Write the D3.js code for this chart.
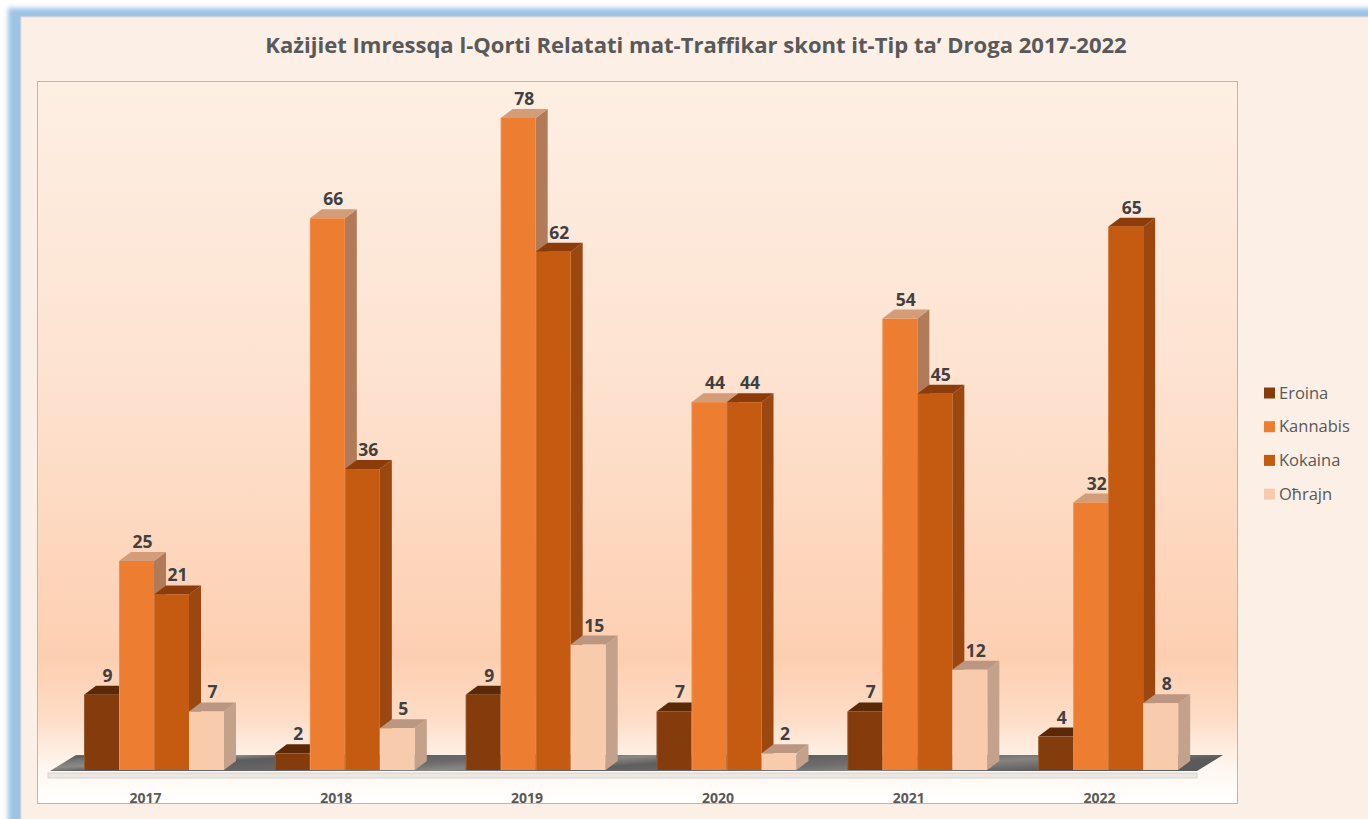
<!DOCTYPE html>
<html>
<head>
  <meta charset="utf-8">
  <script src="https://d3js.org/d3.v7.min.js"></script>
  <style>
    body { margin: 0; background: #ffffff; }
    svg { display: block; }
  </style>
</head>
<body>
<div id="chart"></div>
<script>
// data
const years = ["2017", "2018", "2019", "2020", "2021", "2022"];
const eroina = [9, 2, 9, 7, 7, 4];
const kannabis = [25, 66, 78, 44, 54, 32];
const kokaina = [21, 36, 62, 44, 45, 65];
const ohrajn = [7, 5, 15, 2, 12, 8];
const seriesNames = ["Eroina", "Kannabis", "Kokaina", "Oħrajn"];
const chartTitle = "Każijiet Imressqa l-Qorti Relatati mat-Traffikar skont it-Tip ta’ Droga 2017-2022";

// front / top / side shades for each series
const faceColors = [
  {front: "#843c0c", top: "#5c2907", side: "#6a3009"},
  {front: "#ed7d31", top: "#d49d79", side: "#b17b59"},
  {front: "#c55a11", top: "#8b3c0a", side: "#9c4710"},
  {front: "#f8cbad", top: "#bb9781", side: "#c3a18b"}
];

const series = seriesNames.map((name, i) => ({
  name: name,
  values: [eroina, kannabis, kokaina, ohrajn][i],
  colors: faceColors[i]
}));

const W = 1368, H = 819;
const dx = 12, dy = 9;          // 3d depth of bars
const floorDx = 26, floorDy = 16;

const svg = d3.select("#chart").append("svg")
  .attr("width", W).attr("height", H);

const defs = svg.append("defs");

defs.append("filter").attr("id", "glow")
  .attr("x", "-5%").attr("y", "-5%").attr("width", "110%").attr("height", "110%")
  .append("feGaussianBlur").attr("stdDeviation", 2.5);

const plotGrad = defs.append("linearGradient").attr("id", "plotGrad")
  .attr("x1", 0).attr("y1", 0).attr("x2", 0).attr("y2", 1);
[[0, "#fdefe3"], [0.4, "#fde3d1"], [0.8, "#fdcfb1"], [0.88, "#fddcc5"],
 [0.95, "#fff6ef"], [1, "#ffffff"]].forEach(s =>
  plotGrad.append("stop").attr("offset", s[0]).attr("stop-color", s[1]));

const floorGrad = defs.append("linearGradient").attr("id", "floorGrad")
  .attr("x1", 0).attr("y1", 0).attr("x2", 1).attr("y2", 0.2);
[[0, "#8a8a8a"], [0.04, "#5e5e5e"], [0.1, "#7a7a7a"], [0.16, "#8c8a86"],
 [0.22, "#5c5c5c"], [0.4, "#6a6a6a"], [0.5, "#8a8884"], [0.6, "#5e5e5e"],
 [0.75, "#6c6c6c"], [0.85, "#868480"], [1, "#5a5a5a"]].forEach(s =>
  floorGrad.append("stop").attr("offset", s[0]).attr("stop-color", s[1]));

// blue frame and chart background
svg.append("rect")
  .attr("x", 8).attr("y", 8).attr("width", W + 40).attr("height", H + 40)
  .attr("fill", "#9dc3e6").attr("filter", "url(#glow)");
svg.append("rect")
  .attr("x", 21).attr("y", 17).attr("width", W).attr("height", H)
  .attr("fill", "#fcefe6").attr("stroke", "#f2dccd").attr("stroke-width", 1);

// title
const title = svg.append("text")
  .attr("x", 696).attr("y", 53)
  .attr("text-anchor", "middle")
  .style("font-family", "'Open Sans', sans-serif")
  .style("font-weight", "bold")
  .style("font-size", "17px")
  .attr("fill", "#595959")
  .text(chartTitle);
const tl = title.node().getComputedTextLength();
title.style("font-size", (17 * 862 / tl).toFixed(2) + "px");

// plot area
svg.append("rect")
  .attr("x", 37.5).attr("y", 81.5).attr("width", 1200).attr("height", 722)
  .attr("fill", "url(#plotGrad)")
  .attr("stroke", "#c3b3aa").attr("stroke-width", 1);

// scales
const x0 = d3.scaleBand().domain(years).range([50, 1195]);
const x1 = d3.scaleBand().domain(seriesNames).range([0, 140]);
const groupShift = 34;
const y = d3.scaleLinear().domain([0, 78]).range([770, 118]);
const base = y(0);

// floor
svg.append("rect")
  .attr("x", 48).attr("y", base + 3).attr("width", 1149).attr("height", 5)
  .attr("fill", "#ebe7e3").attr("stroke", "#d8d4d0").attr("stroke-width", 1);
svg.append("polygon")
  .attr("points", [
    [x0.range()[0], base + 1], [x0.range()[1] + 2, base + 1],
    [x0.range()[1] + 2 + floorDx, base + 1 - floorDy], [x0.range()[0] + floorDx, base + 1 - floorDy]
  ].map(p => p.join(",")).join(" "))
  .attr("fill", "url(#floorGrad)");

// bars, drawn left to right so each front face covers the previous side face
const bars = [];
years.forEach((yr, i) => {
  series.forEach(s => {
    bars.push({year: yr, name: s.name, value: s.values[i], colors: s.colors});
  });
});

const barG = svg.append("g");
const bw = x1.bandwidth();

const g = barG.selectAll("g.bar")
  .data(bars)
  .join("g")
  .attr("class", "bar");

g.append("polygon") // side
  .attr("points", d => {
    const xr = x0(d.year) + groupShift + x1(d.name) + bw;
    const yt = y(d.value);
    return [[xr, yt], [xr + dx, yt - dy], [xr + dx, base - dy], [xr, base]]
      .map(p => p.join(",")).join(" ");
  })
  .attr("fill", d => d.colors.side);

g.append("polygon") // top
  .attr("points", d => {
    const xl = x0(d.year) + groupShift + x1(d.name);
    const yt = y(d.value);
    return [[xl, yt], [xl + bw, yt], [xl + bw + dx, yt - dy], [xl + dx, yt - dy]]
      .map(p => p.join(",")).join(" ");
  })
  .attr("fill", d => d.colors.top);

g.append("rect") // front
  .attr("x", d => x0(d.year) + groupShift + x1(d.name))
  .attr("y", d => y(d.value))
  .attr("width", bw)
  .attr("height", d => base - y(d.value))
  .attr("fill", d => d.colors.front);

g.append("line") // soft bevel on the front face
  .attr("x1", d => x0(d.year) + groupShift + x1(d.name) + 0.5)
  .attr("x2", d => x0(d.year) + groupShift + x1(d.name) + 0.5)
  .attr("y1", d => y(d.value))
  .attr("y2", base)
  .attr("stroke", "#ffffff").attr("stroke-opacity", 0.15);

// value labels
svg.append("g").selectAll("text")
  .data(bars)
  .join("text")
  .attr("x", d => x0(d.year) + groupShift + x1(d.name) + bw / 2 + dx / 2)
  .attr("y", d => y(d.value) - dy - 4)
  .attr("text-anchor", "middle")
  .style("font-family", "'Open Sans', sans-serif")
  .style("font-weight", "bold")
  .style("font-size", "17.5px")
  .attr("fill", "#404040")
  .text(d => d.value);

// category labels
svg.append("g").selectAll("text")
  .data(years)
  .join("text")
  .attr("x", d => x0(d) + x0.bandwidth() / 2)
  .attr("y", 803)
  .attr("text-anchor", "middle")
  .style("font-family", "'Open Sans', sans-serif")
  .style("font-weight", "bold")
  .style("font-size", "14px")
  .attr("fill", "#595959")
  .text(d => d);

// legend
const legend = svg.append("g")
  .selectAll("g")
  .data(series)
  .join("g")
  .attr("transform", (d, i) => `translate(1264, ${393 + i * 33.7})`);

legend.append("rect")
  .attr("x", 0).attr("y", -5.5)
  .attr("width", 11).attr("height", 11)
  .attr("fill", d => d.colors.front);

legend.append("text")
  .attr("x", 15).attr("y", 0)
  .attr("dy", "0.35em")
  .style("font-family", "'Open Sans', sans-serif")
  .style("font-size", "16.5px")
  .attr("fill", "#595959")
  .text(d => d.name);
</script>
</body>
</html>
